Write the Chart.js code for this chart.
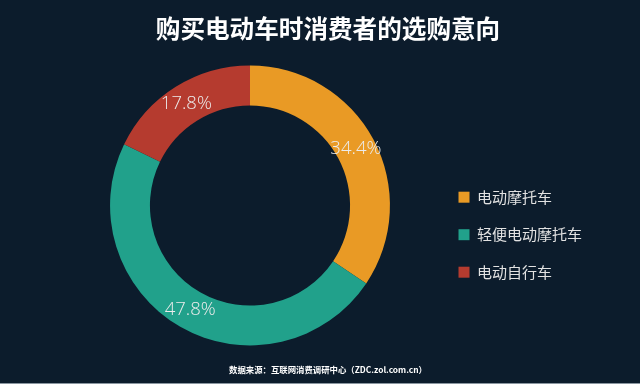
<!DOCTYPE html>
<html>
<head>
<meta charset="utf-8">
<script src="https://cdn.jsdelivr.net/npm/chart.js@4/dist/chart.umd.min.js"></script>
<style>
  html, body { margin: 0; padding: 0; background: #0c1c2c; }
  #wrap { position: relative; width: 640px; height: 383px; border-bottom: 1px solid #8a96a0; }
</style>
</head>
<body>
<div id="wrap"><canvas id="c" width="640" height="383"></canvas></div>
<script>
const categories = ["电动摩托车", "轻便电动摩托车", "电动自行车"];
const shares = [34.4, 47.8, 17.8];
const colors = ["#e99a25", "#21a18b", "#b53b2f"];
const titleText = "购买电动车时消费者的选购意向";
const sourceText = "数据来源：互联网消费调研中心（ZDC.zol.com.cn）";

const arcLabels = {
  id: "arcLabels",
  afterDatasetsDraw(chart) {
    const ctx = chart.ctx;
    const meta = chart.getDatasetMeta(0);
    ctx.save();
    ctx.font = "300 18.5px 'Open Sans', 'Liberation Sans', sans-serif";
    ctx.fillStyle = "#ececec";
    ctx.textAlign = "center";
    ctx.textBaseline = "middle";
    meta.data.forEach((arc, i) => {
      const p = arc.getCenterPoint();
      ctx.fillText(shares[i].toFixed(1) + "%", p.x, p.y);
    });
    ctx.restore();
  }
};

new Chart(document.getElementById("c"), {
  type: "doughnut",
  data: {
    labels: categories,
    datasets: [{
      data: shares,
      backgroundColor: colors,
      borderWidth: 0
    }]
  },
  options: {
    responsive: false,
    animation: false,
    cutout: "71.5%",
    layout: { padding: { left: 64, right: 48, top: 0, bottom: 0 } },
    plugins: {
      title: {
        display: true,
        text: titleText,
        color: "#ffffff",
        font: { family: "'Noto Sans CJK SC', sans-serif", size: 24.6, weight: "bold" },
        padding: { top: 14, bottom: 22 }
      },
      subtitle: {
        display: true,
        position: "bottom",
        text: sourceText,
        color: "#ffffff",
        font: { family: "'Noto Sans CJK SC', sans-serif", size: 8.4, weight: "bold" },
        padding: { top: 19.5, bottom: 8 }
      },
      legend: {
        position: "right",
        align: "center",
        title: {
          display: true,
          text: " ",
          font: { size: 12 },
          padding: { top: 36, bottom: 36 }
        },
        labels: {
          color: "#e2e2e2",
          font: { family: "'Noto Sans CJK SC', sans-serif", size: 15 },
          boxWidth: 11,
          boxHeight: 11,
          padding: 22.5
        }
      },
      tooltip: { enabled: false }
    }
  },
  plugins: [arcLabels]
});
</script>
</body>
</html>
